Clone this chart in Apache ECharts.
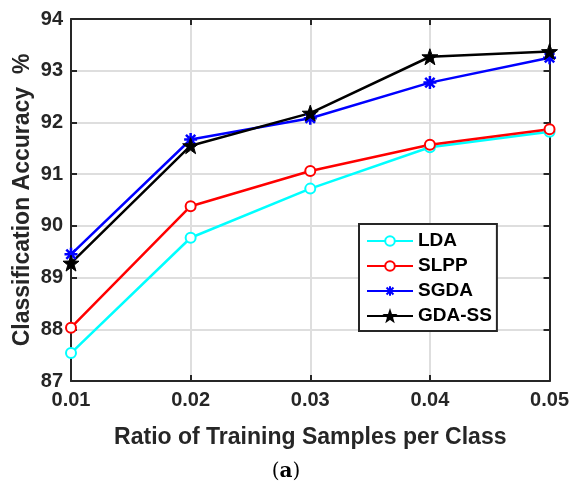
<!DOCTYPE html>
<html>
<head>
    <meta charset="utf-8">
    <title>ECharts</title>
    <script src="https://cdn.jsdelivr.net/npm/echarts@6/dist/echarts.min.js"></script>
</head>
<body style="margin:0;background:#fff">
    <div id="main" style="width: 572px;height:484px;"></div>
    <script type="text/javascript">
        // data
        var ratios = [0.01, 0.02, 0.03, 0.04, 0.05];
        var lda = [87.54, 89.77, 90.72, 91.52, 91.82];
        var slpp = [88.03, 90.38, 91.06, 91.57, 91.87];
        var sgda = [89.45, 91.67, 92.08, 92.77, 93.25];
        var gdass = [89.28, 91.55, 92.18, 93.27, 93.37];

        var font = 'Liberation Sans, Arial, sans-serif';
        var axisCol = '#262626';
        var starPath = 'path://M0,-10L2.35,-3.24L9.51,-3.09L3.8,1.24L5.88,8.09L0,4L-5.88,8.09L-3.8,1.24L-9.51,-3.09L-2.35,-3.24Z';
        var astPath = 'path://M0,-5L0,5M-5,0L5,0M-3.6,-3.6L3.6,3.6M-3.6,3.6L3.6,-3.6';

        function pairs(vals) {
            return ratios.map(function (r, i) { return [r, vals[i]]; });
        }

        function mkSeries(name, vals, color, symbol, size, bw) {
            return {
                name: name,
                type: 'line',
                data: pairs(vals),
                symbol: symbol,
                symbolSize: size,
                showAllSymbol: true,
                lineStyle: { color: color, width: 2.5 },
                itemStyle: { color: color, borderColor: color, borderWidth: bw },
                emphasis: { disabled: true },
                z: 3
            };
        }

        var myChart = echarts.init(document.getElementById('main'));

        var tickLabel = { fontFamily: font, fontWeight: 'bold', fontSize: 20, color: axisCol };
        var titleStyle = { fontFamily: font, fontWeight: 'bold', fontSize: 23, color: axisCol };

        myChart.setOption({
            animation: false,
            grid: { left: 71, top: 19, width: 479, height: 362 },
            legend: {
                orient: 'vertical',
                left: 359, top: 224,
                padding: [7, 5, 5, 7],
                itemGap: 5,
                itemWidth: 46, itemHeight: 12,
                borderColor: axisCol, borderWidth: 2,
                backgroundColor: '#fff',
                textStyle: { fontFamily: font, fontWeight: 'bold', fontSize: 19, color: '#000', lineHeight: 20 },
                data: ['LDA', 'SLPP', 'SGDA', 'GDA-SS']
            },
            xAxis: [{
                type: 'value',
                min: 0.01, max: 0.05, interval: 0.01,
                name: 'Ratio of Training Samples per Class',
                nameLocation: 'middle', nameGap: 45,
                nameTextStyle: titleStyle,
                axisLine: { lineStyle: { color: axisCol, width: 2 } },
                axisTick: { inside: true, length: 6, lineStyle: { color: axisCol, width: 2 } },
                axisLabel: Object.assign({ margin: 9, formatter: function (v) { return v.toFixed(2); } }, tickLabel),
                splitLine: { show: true, lineStyle: { color: '#dedede', width: 2 } }
            }, {
                type: 'value', position: 'top',
                min: 0.01, max: 0.05, interval: 0.01,
                axisLine: { lineStyle: { color: axisCol, width: 2 } },
                axisTick: { inside: true, length: 6, lineStyle: { color: axisCol, width: 2 } },
                axisLabel: { show: false },
                splitLine: { show: false }
            }],
            yAxis: [{
                type: 'value',
                min: 87, max: 94, interval: 1,
                name: 'Classification Accuracy  %',
                nameLocation: 'middle', nameGap: 37,
                nameMoveOverlap: false,
                nameTextStyle: titleStyle,
                axisLine: { show: true, lineStyle: { color: axisCol, width: 2 } },
                axisTick: { show: true, inside: true, length: 6, lineStyle: { color: axisCol, width: 2 } },
                axisLabel: Object.assign({ margin: 8 }, tickLabel),
                splitLine: { show: true, lineStyle: { color: '#dedede', width: 2 } }
            }, {
                type: 'value', position: 'right',
                min: 87, max: 94, interval: 1,
                axisLine: { show: true, lineStyle: { color: axisCol, width: 2 } },
                axisTick: { show: true, inside: true, length: 6, lineStyle: { color: axisCol, width: 2 } },
                axisLabel: { show: false },
                splitLine: { show: false }
            }],
            series: [
                mkSeries('LDA', lda, '#00ffff', 'emptyCircle', 10, 2),
                mkSeries('SLPP', slpp, '#ff0000', 'emptyCircle', 10, 2),
                mkSeries('SGDA', sgda, '#0000ff', astPath, 13, 2.5),
                mkSeries('GDA-SS', gdass, '#000000', starPath, 16, 1)
            ],
            graphic: [{
                type: 'text',
                left: 'center', top: 462,
                style: {
                    text: '({b|a})',
                    font: '20px "DejaVu Serif", serif',
                    fill: '#000',
                    rich: { b: { fontFamily: 'DejaVu Serif', fontWeight: 'bold', fontSize: 20 } }
                }
            }]
        });
    </script>
</body>
</html>
